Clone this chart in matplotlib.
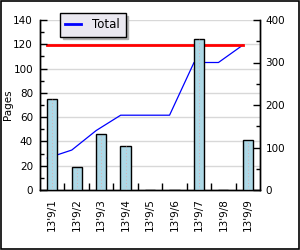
import numpy as np
import matplotlib
matplotlib.use('Agg')
import matplotlib.pyplot as plt
from matplotlib.patches import Rectangle

# data
days = ["13'9/1", "13'9/2", "13'9/3", "13'9/4", "13'9/5",
        "13'9/6", "13'9/7", "13'9/8", "13'9/9"]
pages = [75, 19, 46, 36, 0, 0, 124, 0, 41]
total = [75, 94, 140, 176, 176, 176, 300, 300, 341]
target = 341

plt.rcParams['font.family'] = 'DejaVu Sans'
plt.rcParams['font.size'] = 7.5

fig = plt.figure(figsize=(3, 2.5), dpi=100)
fig.patch.set_facecolor('white')
fig.patches.append(Rectangle((0.002, 0.004), 0.994, 0.992, transform=fig.transFigure,
                             fill=False, edgecolor='black', linewidth=1.2))

ax = fig.add_axes([40/300, 60/250, 220/300, 170/250])
ax2 = ax.twinx()
x = np.arange(len(days))

# lines on the right axis, drawn behind the bars
ax2.plot(x - 0.2, total, color='blue', linewidth=0.9, zorder=1)
ax2.plot([x[0] - 0.2, x[-1] - 0.2], [target, target], color='red', linewidth=2, zorder=1)
ax2.set_ylim(0, 400)
ax2.set_yticks([0, 100, 200, 300, 400])
ax2.set_yticks(np.arange(0, 401, 50), minor=True)

ax.set_zorder(ax2.get_zorder() + 1)
ax.patch.set_visible(False)
ax2.patch.set_visible(True)
ax2.patch.set_facecolor('white')

ax.bar(x, pages, width=0.42, color='#add8e6', edgecolor='black', linewidth=1, zorder=3)
for xi, p in zip(x, pages):
    if p > 0:
        ax.plot([xi, xi], [0, p], color='#e8a0a0', linewidth=0.6, linestyle=(0, (1, 3)), zorder=4)

ax.set_xlim(-0.5, len(days) - 0.5)
ax.set_ylim(0, 140)
ax.set_yticks(np.arange(0, 141, 20))
ax.set_yticks(np.arange(0, 141, 10), minor=True)
ax.set_ylabel('Pages')
ax.yaxis.set_label_coords(-27/220, 0.5)
for y in np.arange(20, 141, 20):
    ax2.axhline(y * 400 / 140, color='#d8d8d8', linewidth=1, zorder=0)

ax.set_xticks(x)
ax.set_xticklabels(days, rotation=90)
ax.set_xticks(np.arange(0.5, len(days) - 0.5, 1), minor=True)
ax.tick_params(axis='x', which='major', length=0, pad=6)
ax.tick_params(axis='x', which='minor', direction='in', length=5, width=1)
ax.tick_params(axis='y', which='both', direction='in', width=1, pad=5)
ax.tick_params(axis='y', which='major', length=5)
ax.tick_params(axis='y', which='minor', length=3)
ax2.tick_params(axis='y', which='both', direction='in', width=1, pad=4)
ax2.tick_params(axis='y', which='major', length=5)
ax2.tick_params(axis='y', which='minor', length=3)

for a in (ax, ax2):
    a.spines['top'].set_visible(False)
    for s in ('left', 'right', 'bottom'):
        a.spines[s].set_linewidth(1)

leg = ax.legend([plt.Line2D([], [], color='blue', linewidth=2)], ['Total'],
                loc='upper left', bbox_to_anchor=(60/300, 1 - 13/250),
                bbox_transform=fig.transFigure, frameon=True, fancybox=False,
                shadow={'color': '#b0b0b0', 'alpha': 1}, handlelength=1.3,
                handletextpad=1.0, borderpad=0.45, borderaxespad=0, fontsize=8.5)
leg.get_frame().set_edgecolor('black')
leg.get_frame().set_facecolor('#eae8f0')
leg.get_frame().set_linewidth(1)

fig.savefig('out.png', dpi=100)
